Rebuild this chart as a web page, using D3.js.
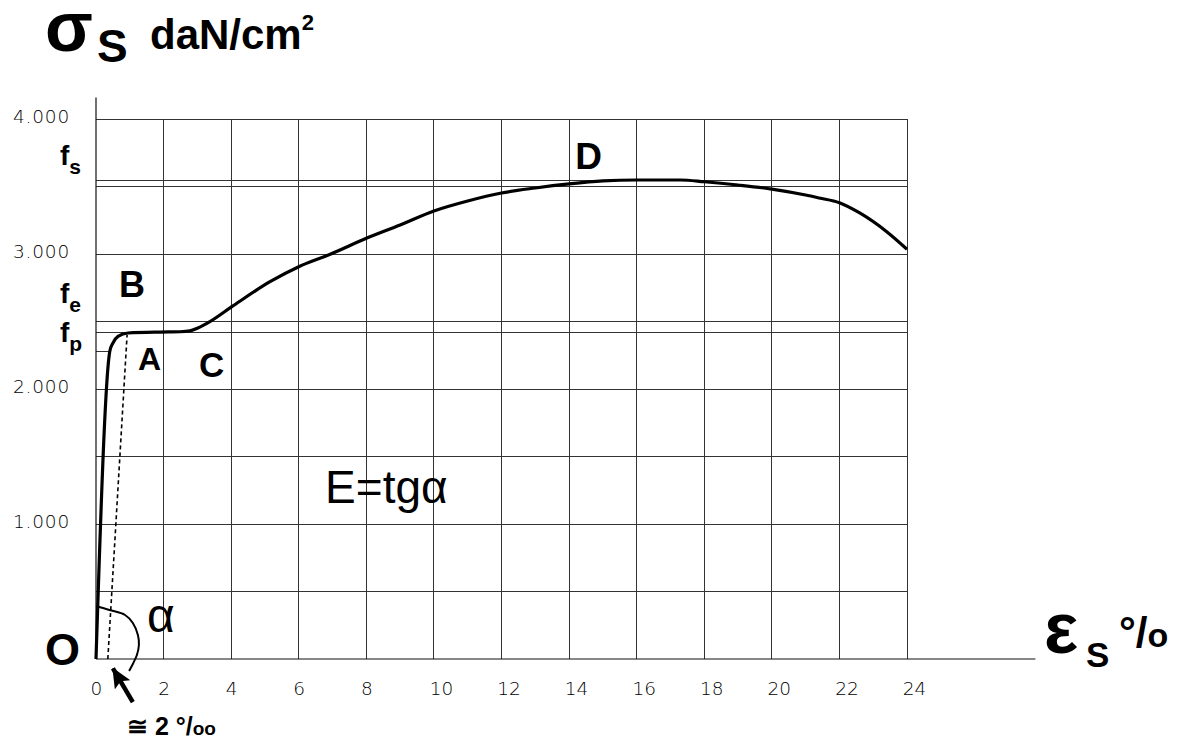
<!DOCTYPE html>
<html>
<head>
<meta charset="utf-8">
<script src="https://cdn.jsdelivr.net/npm/d3@7"></script>
<style>
  body { margin: 0; background: #fff; }
  svg { display: block; }
</style>
</head>
<body>
<svg id="chart"></svg>
<script>
// stress-strain curve of mild steel
const strain = [0, 0.41, 0.5, 0.65, 0.95, 1.9, 2.49, 2.78, 3.0, 3.37, 4.02, 5.15, 6.0, 6.93, 8, 9, 10, 11, 12, 13, 14, 15, 16, 17.3, 18, 19, 20, 21, 21.4, 22, 22.6, 23.4, 24];
const stress = [0, 2281, 2340, 2390, 2415, 2422, 2424, 2430, 2450, 2499, 2610, 2795, 2906, 2998, 3116, 3215, 3319, 3393, 3452, 3489, 3519, 3541, 3548, 3548, 3535, 3511, 3481, 3437, 3415, 3380, 3304, 3165, 3035];

// unloading line (offset ~ 2 o/oo)
const unloadStrain = [0.35, 0.92];
const unloadStress = [0, 2400];

const xTicks = [0, 2, 4, 6, 8, 10, 12, 14, 16, 18, 20, 22, 24];
const yTicks = [1000, 2000, 3000, 4000];
const gridStress = [500, 1000, 1500, 2000, 2500, 3000, 3500, 4000];
const fsStress = 3548;
const fpStress = 2415;
const propStress = 2281;
const propStrain = 0.41;

// angle arc and arrow near the origin (data units)
const arcStrain = [0, 0.4, 0.86, 1.09, 1.24, 1.27, 1.21, 1.09, 0.98];
const arcStress = [393, 363, 326, 267, 178, 104, 30, -37, -89];
const arrowStrain = [1.09, 0.5];
const arrowStress = [-319, -70];

// letters placed on the plot (data units)
const pointLabels = [
  { t: 'A', sx: 1.24, sy: 2141, size: 32 },
  { t: 'B', sx: 0.68, sy: 2681, size: 36 },
  { t: 'C', sx: 3.05, sy: 2089, size: 35 },
  { t: 'D', sx: 14.18, sy: 3630, size: 37 }
];

const W = 1180, H = 744;
const x = d3.scaleLinear().domain([0, 24]).range([96, 907]);
const y = d3.scaleLinear().domain([0, 4000]).range([659, 119]);
const bold = "'Liberation Sans', Arial, Helvetica, sans-serif";

const svg = d3.select('#chart').attr('width', W).attr('height', H);

// grid
const grid = svg.append('g')
  .attr('stroke', '#333')
  .attr('stroke-width', 1)
  .attr('shape-rendering', 'crispEdges');
grid.selectAll('line.v')
  .data(xTicks.slice(1))
  .join('line')
  .attr('x1', d => x(d)).attr('x2', d => x(d))
  .attr('y1', y(0)).attr('y2', y(4000));
grid.selectAll('line.h')
  .data(gridStress.concat([fsStress, fpStress]))
  .join('line')
  .attr('x1', x(0)).attr('x2', x(24))
  .attr('y1', d => y(d)).attr('y2', d => y(d));
grid.append('line')
  .attr('x1', x(0)).attr('x2', x(propStrain))
  .attr('y1', y(propStress)).attr('y2', y(propStress));

// axes lines
svg.append('line')
  .attr('x1', x(0)).attr('x2', x(27.8))
  .attr('y1', y(0)).attr('y2', y(0))
  .attr('stroke', '#111').attr('stroke-width', 1.2);
svg.append('line')
  .attr('x1', x(0)).attr('x2', x(0))
  .attr('y1', y(0)).attr('y2', y(4160))
  .attr('stroke', '#111').attr('stroke-width', 1.2);

// tick labels
const xAxis = svg.append('g')
  .attr('transform', `translate(0,${y(0)})`)
  .call(d3.axisBottom(x).tickValues(xTicks).tickSize(0).tickPadding(23));
xAxis.select('.domain').remove();
xAxis.selectAll('text')
  .attr('dx', d => d >= 10 ? 7 : 0);

const yAxis = svg.append('g')
  .attr('transform', `translate(${x(0)},0)`)
  .call(d3.axisLeft(y).tickValues(yTicks).tickSize(0).tickPadding(26)
    .tickFormat(d => d3.format(',')(d).replace(',', '.')));
yAxis.select('.domain').remove();
yAxis.selectAll('text').attr('dy', '0.2em').attr('letter-spacing', 0.8);

svg.selectAll('.tick text')
  .attr('font-family', "'DejaVu Sans', sans-serif")
  .attr('font-weight', 200)
  .attr('font-size', 18.5)
  .attr('fill', '#000');

// curve
const line = d3.line()
  .x((d, i) => x(strain[i]))
  .y((d, i) => y(stress[i]))
  .curve(d3.curveMonotoneX);
svg.append('path')
  .datum(strain)
  .attr('fill', 'none')
  .attr('stroke', '#000')
  .attr('stroke-width', 3.2)
  .attr('stroke-linejoin', 'round')
  .attr('d', line);

// unloading dashed line
svg.append('line')
  .attr('x1', x(unloadStrain[0])).attr('y1', y(unloadStress[0]))
  .attr('x2', x(unloadStrain[1])).attr('y2', y(unloadStress[1]))
  .attr('stroke', '#000').attr('stroke-width', 1.6)
  .attr('stroke-dasharray', '4,3');

// angle arc
svg.append('path')
  .datum(arcStrain)
  .attr('fill', 'none')
  .attr('stroke', '#000')
  .attr('stroke-width', 2)
  .attr('d', d3.line()
    .x((d, i) => x(arcStrain[i]))
    .y((d, i) => y(arcStress[i]))
    .curve(d3.curveCatmullRom));

// arrow
svg.append('defs').append('marker')
  .attr('id', 'head')
  .attr('markerUnits', 'userSpaceOnUse')
  .attr('viewBox', '0 0 20 18')
  .attr('refX', 19).attr('refY', 9)
  .attr('markerWidth', 20).attr('markerHeight', 18)
  .attr('orient', 'auto')
  .append('path')
  .attr('d', 'M0,0L20,9L0,18L4,9Z')
  .attr('fill', '#000');
svg.append('line')
  .attr('x1', x(arrowStrain[0])).attr('y1', y(arrowStress[0]))
  .attr('x2', x(arrowStrain[1])).attr('y2', y(arrowStress[1]))
  .attr('stroke', '#000').attr('stroke-width', 4.5)
  .attr('marker-end', 'url(#head)');

// point letters
svg.selectAll('text.pt')
  .data(pointLabels)
  .join('text')
  .attr('x', d => x(d.sx))
  .attr('y', d => y(d.sy))
  .attr('font-family', bold)
  .attr('font-weight', 'bold')
  .attr('font-size', d => d.size)
  .text(d => d.t);

svg.append('text')
  .attr('x', x(6.78)).attr('y', y(1156))
  .attr('font-family', bold)
  .attr('font-size', 46)
  .text('E=tgα');

svg.append('text')
  .attr('x', x(1.51)).attr('y', y(200))
  .attr('font-family', bold)
  .attr('font-size', 48)
  .text('α');

svg.append('text')
  .attr('x', 45).attr('y', 665)
  .attr('font-family', bold).attr('font-weight', 'bold')
  .attr('font-size', 45)
  .text('O');

// f labels
const fLabels = [
  { sub: 's', base: 165 },
  { sub: 'e', base: 303 },
  { sub: 'p', base: 342 }
];
fLabels.forEach(f => {
  const t = svg.append('text')
    .attr('x', 60).attr('y', f.base)
    .attr('font-family', bold).attr('font-weight', 'bold')
    .attr('font-size', 28);
  t.append('tspan').text('f');
  t.append('tspan').attr('font-size', 21).attr('dy', 9).text(f.sub);
});

// y title: sigma_S daN/cm2 as one text
const yt = svg.append('text')
  .attr('font-family', bold).attr('font-weight', 'bold');
yt.append('tspan').attr('x', 45).attr('y', 51).attr('font-size', 70).text('σ');
yt.append('tspan').attr('x', 97).attr('y', 62).attr('font-size', 46).text('S');
yt.append('tspan').attr('x', 150).attr('y', 49).attr('font-size', 42).text('daN/cm');
yt.append('tspan').attr('y', 30).attr('font-size', 22).text('2');

// x title: epsilon_S °/o as one text
const xt = svg.append('text')
  .attr('font-family', bold).attr('font-weight', 'bold');
xt.append('tspan').attr('x', 1044).attr('y', 653).attr('font-size', 72).text('ε');
xt.append('tspan').attr('x', 1086).attr('y', 667).attr('font-size', 35).text('S');
xt.append('tspan').attr('x', 1119).attr('y', 647).attr('font-size', 42).text('°/');
xt.append('tspan').attr('font-size', 34).text('o');

// approx. 2 per mille
const pm = svg.append('text')
  .attr('font-family', bold).attr('font-weight', 'bold')
  .attr('x', 127).attr('y', 735).attr('font-size', 25);
pm.append('tspan').text('≅ 2 °/');
pm.append('tspan').attr('font-size', 19).text('oo');
</script>
</body>
</html>
